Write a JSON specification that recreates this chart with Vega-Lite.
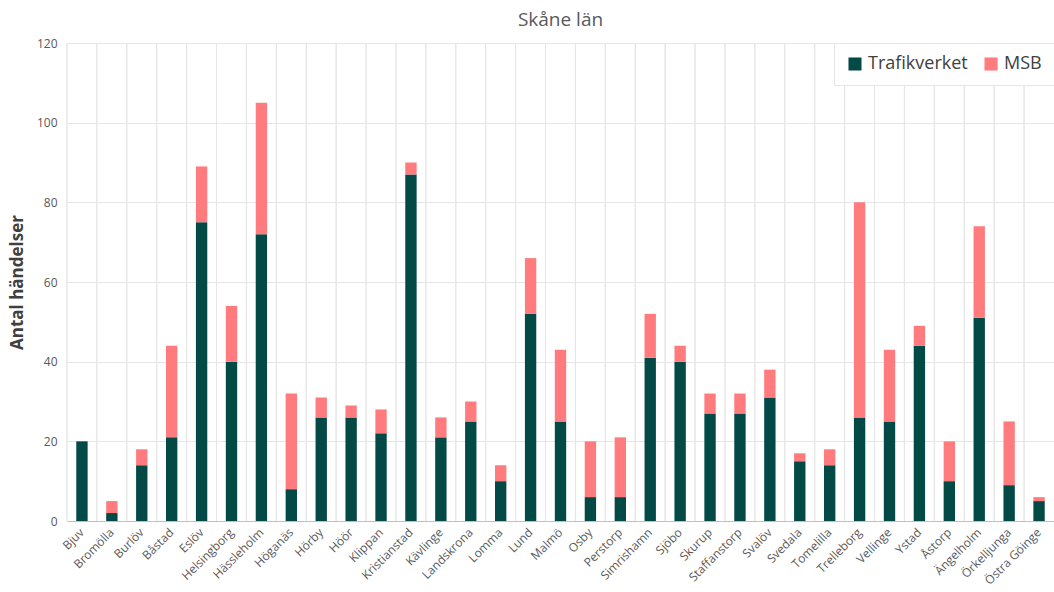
{
  "$schema": "https://vega.github.io/schema/vega-lite/v6.json",
  "autosize": {"type": "none"},
  "padding": {"left": 67, "top": 43, "right": 0, "bottom": 71},
  "width": 987,
  "height": 478,
  "background": "white",
  "config": {
    "font": "Open Sans",
    "view": {"stroke": null}
  },
  "title": {
    "text": "Skåne län",
    "fontSize": 19,
    "fontWeight": "normal",
    "color": "#595959",
    "anchor": "middle",
    "offset": 7
  },
  "data": {
    "values": [
      {"kommun": "Bjuv", "source": "Trafikverket", "antal": 20},
      {"kommun": "Bjuv", "source": "MSB", "antal": 0},
      {"kommun": "Bromölla", "source": "Trafikverket", "antal": 2},
      {"kommun": "Bromölla", "source": "MSB", "antal": 3},
      {"kommun": "Burlöv", "source": "Trafikverket", "antal": 14},
      {"kommun": "Burlöv", "source": "MSB", "antal": 4},
      {"kommun": "Båstad", "source": "Trafikverket", "antal": 21},
      {"kommun": "Båstad", "source": "MSB", "antal": 23},
      {"kommun": "Eslöv", "source": "Trafikverket", "antal": 75},
      {"kommun": "Eslöv", "source": "MSB", "antal": 14},
      {"kommun": "Helsingborg", "source": "Trafikverket", "antal": 40},
      {"kommun": "Helsingborg", "source": "MSB", "antal": 14},
      {"kommun": "Hässleholm", "source": "Trafikverket", "antal": 72},
      {"kommun": "Hässleholm", "source": "MSB", "antal": 33},
      {"kommun": "Höganäs", "source": "Trafikverket", "antal": 8},
      {"kommun": "Höganäs", "source": "MSB", "antal": 24},
      {"kommun": "Hörby", "source": "Trafikverket", "antal": 26},
      {"kommun": "Hörby", "source": "MSB", "antal": 5},
      {"kommun": "Höör", "source": "Trafikverket", "antal": 26},
      {"kommun": "Höör", "source": "MSB", "antal": 3},
      {"kommun": "Klippan", "source": "Trafikverket", "antal": 22},
      {"kommun": "Klippan", "source": "MSB", "antal": 6},
      {"kommun": "Kristianstad", "source": "Trafikverket", "antal": 87},
      {"kommun": "Kristianstad", "source": "MSB", "antal": 3},
      {"kommun": "Kävlinge", "source": "Trafikverket", "antal": 21},
      {"kommun": "Kävlinge", "source": "MSB", "antal": 5},
      {"kommun": "Landskrona", "source": "Trafikverket", "antal": 25},
      {"kommun": "Landskrona", "source": "MSB", "antal": 5},
      {"kommun": "Lomma", "source": "Trafikverket", "antal": 10},
      {"kommun": "Lomma", "source": "MSB", "antal": 4},
      {"kommun": "Lund", "source": "Trafikverket", "antal": 52},
      {"kommun": "Lund", "source": "MSB", "antal": 14},
      {"kommun": "Malmö", "source": "Trafikverket", "antal": 25},
      {"kommun": "Malmö", "source": "MSB", "antal": 18},
      {"kommun": "Osby", "source": "Trafikverket", "antal": 6},
      {"kommun": "Osby", "source": "MSB", "antal": 14},
      {"kommun": "Perstorp", "source": "Trafikverket", "antal": 6},
      {"kommun": "Perstorp", "source": "MSB", "antal": 15},
      {"kommun": "Simrishamn", "source": "Trafikverket", "antal": 41},
      {"kommun": "Simrishamn", "source": "MSB", "antal": 11},
      {"kommun": "Sjöbo", "source": "Trafikverket", "antal": 40},
      {"kommun": "Sjöbo", "source": "MSB", "antal": 4},
      {"kommun": "Skurup", "source": "Trafikverket", "antal": 27},
      {"kommun": "Skurup", "source": "MSB", "antal": 5},
      {"kommun": "Staffanstorp", "source": "Trafikverket", "antal": 27},
      {"kommun": "Staffanstorp", "source": "MSB", "antal": 5},
      {"kommun": "Svalöv", "source": "Trafikverket", "antal": 31},
      {"kommun": "Svalöv", "source": "MSB", "antal": 7},
      {"kommun": "Svedala", "source": "Trafikverket", "antal": 15},
      {"kommun": "Svedala", "source": "MSB", "antal": 2},
      {"kommun": "Tomelilla", "source": "Trafikverket", "antal": 14},
      {"kommun": "Tomelilla", "source": "MSB", "antal": 4},
      {"kommun": "Trelleborg", "source": "Trafikverket", "antal": 26},
      {"kommun": "Trelleborg", "source": "MSB", "antal": 54},
      {"kommun": "Vellinge", "source": "Trafikverket", "antal": 25},
      {"kommun": "Vellinge", "source": "MSB", "antal": 18},
      {"kommun": "Ystad", "source": "Trafikverket", "antal": 44},
      {"kommun": "Ystad", "source": "MSB", "antal": 5},
      {"kommun": "Åstorp", "source": "Trafikverket", "antal": 10},
      {"kommun": "Åstorp", "source": "MSB", "antal": 10},
      {"kommun": "Ängelholm", "source": "Trafikverket", "antal": 51},
      {"kommun": "Ängelholm", "source": "MSB", "antal": 23},
      {"kommun": "Örkelljunga", "source": "Trafikverket", "antal": 9},
      {"kommun": "Örkelljunga", "source": "MSB", "antal": 16},
      {"kommun": "Östra Göinge", "source": "Trafikverket", "antal": 5},
      {"kommun": "Östra Göinge", "source": "MSB", "antal": 1}
    ]
  },
  "layer": [
    {
      "mark": {"type": "rule", "color": "#e6e6e6", "strokeWidth": 1, "xOffset": -9.3},
      "encoding": {
        "x": {"field": "kommun", "type": "nominal", "sort": null, "bandPosition": 0}
      }
    },
    {
      "mark": {"type": "bar"},
      "encoding": {
        "x": {
          "field": "kommun",
          "type": "nominal",
          "sort": null,
          "scale": {"paddingInner": 0.62, "paddingOuter": 0.31},
          "axis": {
            "title": null,
            "labelAngle": -45,
            "labelFontSize": 12,
            "labelColor": "#595959",
            "ticks": false,
            "domainColor": "#bfbfbf",
            "labelPadding": 9,
            "grid": false
          }
        },
        "y": {
          "field": "antal",
          "type": "quantitative",
          "stack": "zero",
          "scale": {"domain": [0, 120], "nice": false},
          "axis": {
            "title": "Antal händelser",
            "titleFontSize": 17,
            "titleFontWeight": "bold",
            "titleColor": "#404040",
            "titlePadding": 10,
            "values": [0, 20, 40, 60, 80, 100, 120],
            "labelFontSize": 12,
            "labelColor": "#595959",
            "labelPadding": 10,
            "ticks": false,
            "domain": false,
            "gridColor": "#e6e6e6"
          }
        },
        "color": {
          "field": "source",
          "type": "nominal",
          "scale": {"domain": ["Trafikverket", "MSB"], "range": ["#034a47", "#ff7b7e"]},
          "legend": {
            "title": null,
            "orient": "top-right",
            "offset": 0,
            "direction": "horizontal",
            "symbolType": "square",
            "symbolSize": 170,
            "symbolStrokeWidth": 0,
            "labelFontSize": 18,
            "labelColor": "#404040",
            "fillColor": "white",
            "strokeColor": "#e6e6e6",
            "padding": 12,
            "columnPadding": 14
          }
        },
        "order": {"field": "source", "sort": "descending"}
      }
    }
  ]
}
